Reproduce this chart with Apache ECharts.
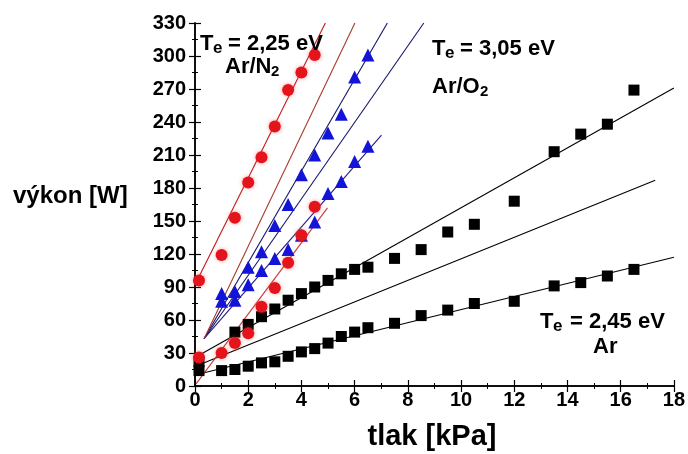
<!DOCTYPE html>
<html>
<head>
<meta charset="utf-8">
<script src="https://cdn.jsdelivr.net/npm/echarts@6/dist/echarts.min.js"></script>
<style>
  html, body { margin: 0; padding: 0; background: #fff; }
  #chart { width: 688px; height: 454px; }
</style>
</head>
<body>
<div id="chart"></div>
<script>
// Pressure [kPa] and power [W] for the three gas mixtures
const pressureArN2 = [0.15, 1, 1.5, 2, 2.5, 3, 3.5, 4, 4.5];
const powerArN2High = [96, 119, 153, 185, 208, 236, 269, 285, 301];
const powerArN2Low = [26, 30, 39, 48, 72, 89, 112, 137, 163];

const pressureArO2 = [1, 1.5, 2, 2.5, 3, 3.5, 4, 4.5, 5, 5.5, 6, 6.5];
const powerArO2High = [84, 86, 108, 122, 146, 165, 192, 210, 230, 247, 281, 301];
const powerArO2Low = [77, 78, 92, 105, 116, 124, 137, 149, 175, 186, 204, 218];

const pressureArHigh = [0.15, 1.5, 2, 2.5, 3, 3.5, 4, 4.5, 5, 5.5, 6, 6.5, 7.5, 8.5, 9.5, 10.5, 12, 13.5, 14.5, 15.5, 16.5];
const powerArHigh = [22, 49, 56, 63, 70, 78, 84, 90, 96, 102, 106, 108, 116, 124, 140, 147, 168, 213, 229, 238, 269];

const pressureArLow = [0.15, 1, 1.5, 2, 2.5, 3, 3.5, 4, 4.5, 5, 5.5, 6, 6.5, 7.5, 8.5, 9.5, 10.5, 12, 13.5, 14.5, 15.5, 16.5];
const powerArLow = [14, 14, 15, 18, 21, 22, 27, 31, 34, 39, 45, 49, 53, 57, 64, 69, 75, 77, 91, 94, 100, 106];

// Straight fit lines: [pressure, power] at both ends
const fitArN2Steep = [[0, 92], [4.9, 330]];
const fitArN2Mid = [[0.34, 43], [6.01, 330]];
const fitArN2Low = [[0.04, 2], [4.98, 162]];
const fitArO2A = [[0.34, 43], [7.23, 330]];
const fitArO2B = [[0.34, 43], [8.6, 330]];
const fitArO2C = [[0.34, 43], [7.01, 228]];
const fitArHigh = [[0, 26], [18, 271]];
const fitArMid = [[0, 17.7], [17.3, 187]];
const fitArLow = [[0, 10], [18, 117]];

// Axis ranges and ticks
const pressureMin = 0, pressureMax = 18, pressureStep = 2;
const powerMin = 0, powerMax = 330, powerStep = 30;

const zip = (xs, ys) => xs.map((x, i) => [x, ys[i]]);
const FONT = "'Liberation Sans', Arial, sans-serif";

function fitLine(points, color) {
  return {
    type: 'line', data: points, showSymbol: false, symbol: 'none',
    lineStyle: { color: color, width: 1.1 }, z: 2, silent: true, animation: false
  };
}
function markers(points, symbol, size, color, glow) {
  const style = { color: color, opacity: 1 };
  if (glow) { style.shadowBlur = 4; style.shadowColor = glow; }
  return {
    type: 'scatter', data: points, symbol: symbol, symbolSize: size,
    itemStyle: style, z: 5, animation: false
  };
}

function axisX(pos, labels) {
  return {
    type: 'value', position: pos, min: pressureMin, max: pressureMax, interval: pressureStep,
    axisLine: { show: true, lineStyle: { color: '#000', width: 1.5 } },
    axisTick: { show: true, inside: true, length: 6, lineStyle: { color: '#000', width: 1.2 } },
    minorTick: { show: true, splitNumber: 2, length: 3, lineStyle: { color: '#000', width: 1 } },
    splitLine: { show: false },
    axisLabel: { show: labels, color: '#000', fontFamily: FONT, fontWeight: 'bold', fontSize: 20, margin: 4 }
  };
}
function axisY(pos, labels) {
  return {
    type: 'value', position: pos, min: powerMin, max: powerMax, interval: powerStep,
    axisLine: { show: true, lineStyle: { color: '#000', width: 1.5 } },
    axisTick: { show: true, inside: true, length: 6, lineStyle: { color: '#000', width: 1.2 } },
    minorTick: { show: true, splitNumber: 2, length: 3, lineStyle: { color: '#000', width: 1 } },
    splitLine: { show: false },
    axisLabel: { show: labels, color: '#000', fontFamily: FONT, fontWeight: 'bold', fontSize: 20, margin: 9 }
  };
}

function txt(x, y, s, size) {
  return {
    type: 'text', x: x, y: y, z: 10,
    style: { text: s, fill: '#000', font: 'bold ' + size + 'px ' + FONT, verticalAlign: 'top' }
  };
}

const chart = echarts.init(document.getElementById('chart'), null, { renderer: 'canvas' });
chart.setOption({
  backgroundColor: '#fff',
  animation: false,
  grid: { left: 195, right: 5, top: 23, bottom: 68 },
  xAxis: [axisX('bottom', true), axisX('top', false)],
  yAxis: [axisY('left', true), axisY('right', false)],
  series: [
    fitLine(fitArLow, '#000'),
    fitLine(fitArMid, '#000'),
    fitLine(fitArHigh, '#000'),
    fitLine(fitArO2A, '#14146e'),
    fitLine(fitArO2B, '#14146e'),
    fitLine(fitArO2C, '#2a1a80'),
    fitLine(fitArN2Steep, '#c81818'),
    fitLine(fitArN2Mid, '#a83a2c'),
    fitLine(fitArN2Low, '#c83838'),
    markers(zip(pressureArLow, powerArLow), 'rect', 11, '#000'),
    markers(zip(pressureArHigh, powerArHigh), 'rect', 11, '#000'),
    markers(zip(pressureArO2, powerArO2Low), 'triangle', 13, '#1414d8'),
    markers(zip(pressureArO2, powerArO2High), 'triangle', 13, '#1414d8'),
    markers(zip(pressureArN2, powerArN2Low), 'circle', 12, '#e3141b', 'rgba(240,60,60,0.5)'),
    markers(zip(pressureArN2, powerArN2High), 'circle', 12, '#e3141b', 'rgba(240,60,60,0.5)')
  ],
  graphic: [
    txt(13, 184, 'výkon [W]', 24),
    { type: 'text', x: 432, y: 422, z: 10,
      style: { text: 'tlak [kPa]', fill: '#000', font: 'bold 29px ' + FONT, align: 'center', verticalAlign: 'top' } },
    // Ar/N2
    txt(200, 33, 'T', 22), txt(213, 40, 'e', 17), txt(228, 33, '= 2,25 eV', 22),
    txt(225, 56, 'Ar/N', 22), txt(271, 64, '2', 15),
    // Ar/O2
    txt(432, 38, 'T', 22), txt(445, 45, 'e', 17), txt(460, 38, '= 3,05 eV', 22),
    txt(432, 76, 'Ar/O', 22), txt(480, 84, '2', 15),
    // Ar
    txt(540, 311, 'T', 22), txt(553, 318, 'e', 17), txt(570, 311, '= 2,45 eV', 22),
    txt(593, 336, 'Ar', 22)
  ]
});
</script>
</body>
</html>
